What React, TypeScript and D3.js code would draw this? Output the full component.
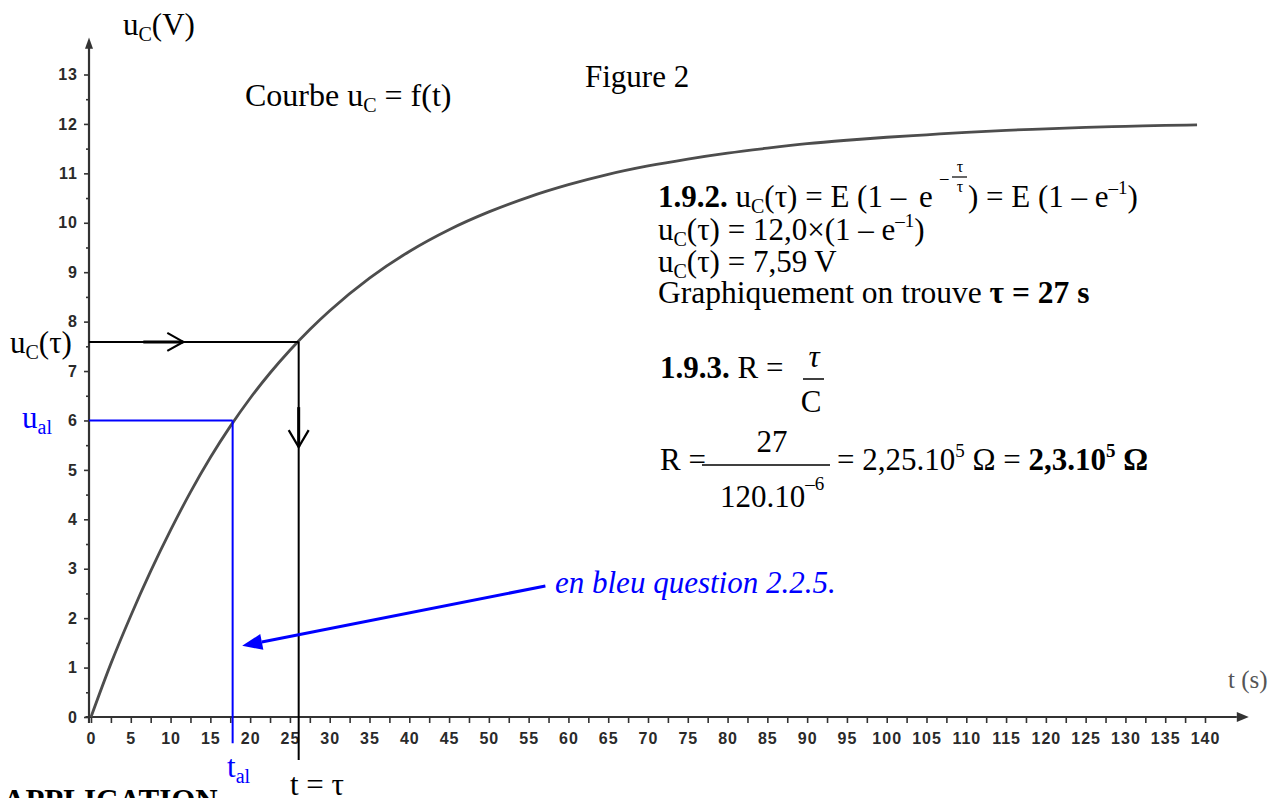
import React, { useEffect, useRef } from 'react';
import * as d3 from 'd3';

const W = 1276;
const H = 798;

// u_C(t)
const times = [0, 2.5, 5, 7.5, 10, 12.5, 15, 17.5, 20, 22.5, 25, 27.5, 30, 35, 40, 45, 50, 55, 60, 65, 70, 75, 80, 85, 90, 95, 100, 105, 110, 115, 120, 125, 130, 135, 139];
const voltages = [0, 1.08, 2.05, 2.95, 3.78, 4.55, 5.25, 5.88, 6.45, 6.96, 7.42, 7.84, 8.22, 8.88, 9.42, 9.86, 10.22, 10.52, 10.77, 10.98, 11.15, 11.29, 11.41, 11.51, 11.6, 11.67, 11.73, 11.78, 11.83, 11.87, 11.9, 11.93, 11.95, 11.97, 11.98];

// reading lines
const tauPoint = { t: 26.1, u: 7.59 };
const alPoint = { t: 17.8, u: 6.0 };
// blue pointer arrow (from text to t_al line)
const pointerFrom = { t: 57.1, u: 2.65 };
const pointerTo = { t: 19.0, u: 1.44 };

const SERIF = "'Liberation Serif', 'Times New Roman', serif";
const SANS = "'Liberation Sans', Arial, sans-serif";
const AXIS = '#333';
const BLUE = '#0000ff';
const F = 31;

const App = () => {
  const xAxisRef = useRef<SVGGElement>(null);
  const yAxisRef = useRef<SVGGElement>(null);
  const curveRef = useRef<SVGPathElement>(null);

  const x = d3.scaleLinear().domain([0, 140]).range([91, 1205]);
  const y = d3.scaleLinear().domain([0, 13]).range([717, 74.5]);

  useEffect(() => {
    const xa = d3
      .axisBottom(x)
      .tickValues(d3.range(0, 140.01, 2.5))
      .tickSize(6)
      .tickPadding(10)
      .tickFormat((d) => (+d % 5 === 0 ? String(d) : ''));
    const gx = d3.select(xAxisRef.current);
    gx.call(xa as any);
    gx.select('.domain').remove();
    gx.selectAll('line').attr('stroke', AXIS).attr('stroke-width', 1.6);
    gx.selectAll('text')
      .attr('fill', '#2a2a2a')
      .style('font-family', SANS)
      .style('font-size', '16px')
      .style('font-weight', 'bold')
      .style('letter-spacing', '1px');

    const ya = d3
      .axisLeft(y)
      .tickValues(d3.range(0, 13.01, 0.5))
      .tickSize(5)
      .tickPadding(6)
      .tickFormat((d) => (+d % 1 === 0 ? String(d) : ''));
    const gy = d3.select(yAxisRef.current);
    gy.call(ya as any);
    gy.select('.domain').remove();
    gy.selectAll('line')
      .attr('stroke', AXIS)
      .attr('stroke-width', 1.6)
      .attr('x2', (d: any) => (d % 1 === 0 ? -5 : -3));
    gy.selectAll('text')
      .attr('fill', '#2a2a2a')
      .style('font-family', SANS)
      .style('font-size', '16px')
      .style('font-weight', 'bold')
      .style('letter-spacing', '1px');

    const line = d3
      .line<number>()
      .x((d, i) => x(times[i]))
      .y((d) => y(d))
      .curve(d3.curveMonotoneX);
    d3.select(curveRef.current).attr('d', line(voltages));
  }, []);

  const x0 = x(-0.25);
  const y0 = y(0);

  // blue pointer head
  const px1 = x(pointerFrom.t), py1 = y(pointerFrom.u);
  const px2 = x(pointerTo.t), py2 = y(pointerTo.u);
  const ang = Math.atan2(py2 - py1, px2 - px1);
  const hl = 20, hw = 8;
  const bx = px2 - hl * Math.cos(ang), by = py2 - hl * Math.sin(ang);
  const head = [
    [px2, py2],
    [bx + hw * Math.sin(ang), by - hw * Math.cos(ang)],
    [bx - hw * Math.sin(ang), by + hw * Math.cos(ang)],
  ]
    .map((p) => p.join(','))
    .join(' ');

  const tx = x(tauPoint.t), ty = y(tauPoint.u);
  const hArrow = x(11.6);
  const vArrow = y(5.46);
  const ax = x(alPoint.t), ay = y(alPoint.u);

  return (
    <svg width={W} height={H} style={{ position: 'absolute', left: 0, top: 0, background: '#fff' }}>
      {/* axes */}
      <line x1={x0} y1={y(-0.12)} x2={x0} y2={y(13.55)} stroke={AXIS} strokeWidth={2.2} />
      <polygon points={`${x0},${y(13.75)} ${x0 - 4},${y(13.52)} ${x0 + 4},${y(13.52)}`} fill={AXIS} />
      <line x1={x(-0.7)} y1={y0} x2={x(144)} y2={y0} stroke={AXIS} strokeWidth={2.2} />
      <polygon points={`${x(145.5)},${y0} ${x(144)},${y0 - 5} ${x(144)},${y0 + 5}`} fill={AXIS} />
      <g ref={xAxisRef} transform={`translate(0,${y0})`} />
      <g ref={yAxisRef} transform={`translate(${x0},0)`} />

      {/* curve */}
      <path ref={curveRef} fill="none" stroke="#4d4d4d" strokeWidth={2.8} />

      {/* tau reading */}
      <line x1={x0} y1={ty} x2={tx} y2={ty} stroke="#000" strokeWidth={2} />
      <line x1={hArrow - 40} y1={ty} x2={hArrow} y2={ty} stroke="#000" strokeWidth={3} />
      <polyline points={`${hArrow - 16},${ty - 9} ${hArrow},${ty} ${hArrow - 16},${ty + 9}`} fill="none" stroke="#000" strokeWidth={2.2} />
      <line x1={tx} y1={ty} x2={tx} y2={y(-0.87)} stroke="#000" strokeWidth={2} />
      <line x1={tx} y1={vArrow - 40} x2={tx} y2={vArrow} stroke="#000" strokeWidth={3} />
      <polyline points={`${tx - 10},${vArrow - 17} ${tx},${vArrow} ${tx + 10},${vArrow - 17}`} fill="none" stroke="#000" strokeWidth={2.2} />

      {/* blue reading */}
      <line x1={x0} y1={ay} x2={ax} y2={ay} stroke={BLUE} strokeWidth={2} />
      <line x1={ax} y1={ay} x2={ax} y2={y(-0.53)} stroke={BLUE} strokeWidth={2} />
      <line x1={px1} y1={py1} x2={bx} y2={by} stroke={BLUE} strokeWidth={3} />
      <polygon points={head} fill={BLUE} />

      {/* text */}
      <g fontFamily={SERIF} fontSize={F} fill="#000">
        <text x={123} y={35}>
          u<tspan fontSize={20} dy={6}>C</tspan>
          <tspan dy={-6}>(V)</tspan>
        </text>
        <text x={245} y={106} fontSize={32}>
          Courbe u<tspan fontSize={20} dy={6}>C</tspan>
          <tspan dy={-6}> = f(t)</tspan>
        </text>
        <text x={585} y={87}>Figure 2</text>
        <text x={1228} y={688} fontSize={25} fill="#555">t (s)</text>

        <text x={10} y={353}>
          u<tspan fontSize={20} dy={6}>C</tspan>
          <tspan dy={-6}>(τ)</tspan>
        </text>
        <text x={22} y={428} fill={BLUE}>
          u<tspan fontSize={20} dy={6}>al</tspan>
        </text>
        <text x={227} y={777} fill={BLUE}>
          t<tspan fontSize={20} dy={6}>al</tspan>
        </text>
        <text x={290} y={795}>t = τ</text>
        <text x={3} y={811} fontWeight="bold">APPLICATION</text>

        <text x={555} y={593} fill={BLUE} fontStyle="italic">en bleu question 2.2.5.</text>

        {/* 1.9.2 */}
        <text x={658} y={207}>
          <tspan fontWeight="bold">1.9.2.</tspan> u<tspan fontSize={20} dy={6}>C</tspan>
          <tspan dy={-6}>(τ) = E (1 – </tspan>
        </text>
        <text x={919} y={207}>e</text>
        <text x={940} y={183} fontSize={17}>–</text>
        <text x={960} y={172} fontSize={16} textAnchor="middle">τ</text>
        <line x1={952} y1={177} x2={967} y2={177} stroke="#000" strokeWidth={1.2} />
        <text x={960} y={192} fontSize={16} textAnchor="middle">τ</text>
        <text x={968} y={207}>
          ) = E (1 – e<tspan fontSize={19} dy={-13}>–1</tspan>
          <tspan dy={13}>)</tspan>
        </text>
        <text x={658} y={240}>
          u<tspan fontSize={20} dy={6}>C</tspan>
          <tspan dy={-6}>(τ) = 12,0×(1 – e</tspan>
          <tspan fontSize={19} dy={-13}>–1</tspan>
          <tspan dy={13}>)</tspan>
        </text>
        <text x={658} y={272}>
          u<tspan fontSize={20} dy={6}>C</tspan>
          <tspan dy={-6}>(τ) = 7,59 V</tspan>
        </text>
        <text x={658} y={303} fontSize={31.5}>
          Graphiquement on trouve <tspan fontWeight="bold">τ = 27 s</tspan>
        </text>

        {/* 1.9.3 */}
        <text x={660} y={378}>
          <tspan fontWeight="bold">1.9.3.</tspan> R =
        </text>
        <text x={814} y={367} textAnchor="middle" fontStyle="italic">τ</text>
        <line x1={803} y1={379} x2={824} y2={379} stroke="#000" strokeWidth={1.5} />
        <text x={811} y={412} textAnchor="middle">C</text>

        <text x={660} y={470}>R =</text>
        <text x={772} y={452} textAnchor="middle">27</text>
        <line x1={702} y1={465} x2={830} y2={465} stroke="#000" strokeWidth={1.5} />
        <text x={720} y={507}>
          120.10<tspan fontSize={19} dy={-17}>–6</tspan>
        </text>
        <text x={837} y={470}>
          = 2,25.10<tspan fontSize={19} dy={-13}>5</tspan>
          <tspan dy={13}> Ω = </tspan>
          <tspan fontWeight="bold">2,3.10</tspan>
          <tspan fontWeight="bold" fontSize={19} dy={-13}>5</tspan>
          <tspan fontWeight="bold" dy={13}> Ω</tspan>
        </text>
      </g>
    </svg>
  );
};

export default App;
